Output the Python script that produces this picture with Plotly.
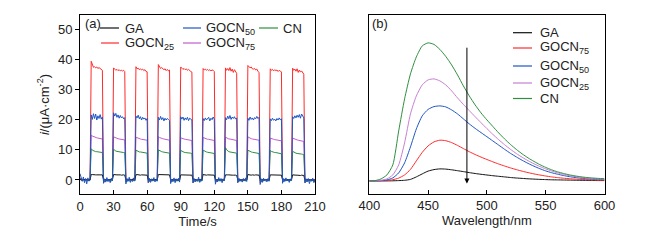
import plotly.graph_objects as go

W, H = 658, 241
FONT = "Arial, 'Liberation Sans', sans-serif"
TXT = "#222222"

# ---------------- (a) photocurrent data (1 s sampling) ----------------
time_s = list(range(0, 211))

ga = [0.3, 0.1, 0.0, 0.2, 0.1, 0.0, 0.1, 0.2, 0.0, 0.1,
      1.8, 1.8, 1.7, 1.8, 1.7, 1.7, 1.8, 1.7, 1.7, 1.6, 1.7, 0.2, 0.1, 0.1, 0.0, 0.1, 0.1, 0.0, 0.1, 0.1,
      1.8, 1.7, 1.8, 1.7, 1.7, 1.8, 1.7, 1.6, 1.7, 1.7, 1.6, 0.1, 0.1, 0.0, 0.1, 0.2, 0.1, 0.0, 0.1, 0.1,
      1.7, 1.8, 1.7, 1.7, 1.6, 1.7, 1.7, 1.6, 1.7, 1.6, 1.6, 0.1, 0.0, 0.1, 0.1, 0.0, 0.1, 0.2, 0.1, 0.0,
      1.8, 1.8, 1.7, 1.7, 1.8, 1.7, 1.6, 1.7, 1.7, 1.6, 1.7, 0.1, 0.1, 0.0, 0.1, 0.1, 0.0, 0.1, 0.1, 0.0,
      1.7, 1.7, 1.8, 1.7, 1.6, 1.7, 1.7, 1.6, 1.6, 1.7, 1.6, 0.2, 0.1, 0.0, 0.1, 0.0, 0.1, 0.1, 0.0, 0.1,
      1.8, 1.7, 1.7, 1.6, 1.7, 1.7, 1.6, 1.7, 1.6, 1.6, 1.6, 0.1, 0.0, 0.1, 0.1, 0.2, 0.1, 0.0, 0.1, 0.1,
      1.7, 1.8, 1.7, 1.7, 1.6, 1.7, 1.6, 1.6, 1.7, 1.6, 1.5, 0.1, 0.1, 0.0, 0.1, 0.0, 0.1, 0.1, 0.1, 0.0,
      1.8, 1.7, 1.7, 1.6, 1.7, 1.6, 1.6, 1.7, 1.6, 1.5, 1.6, 0.2, 0.1, 0.1, 0.0, 0.1, 0.0, 0.1, 0.1, 0.0,
      1.7, 1.7, 1.6, 1.7, 1.6, 1.6, 1.5, 1.6, 1.6, 1.5, 1.6, 0.1, 0.0, 0.1, 0.1, 0.0, 0.1, 0.1, 0.0, 0.1,
      1.7, 1.6, 1.7, 1.6, 1.6, 1.5, 1.6, 1.5, 1.6, 1.5, 1.5, 0.1, 0.1, 0.0, 0.1, 0.1, 0.0, 0.1, 0.0, 0.1, 0.0]

gocn25 = [0.8, 0.3, -0.2, 0.1, -0.3, 0.2, 0.0, -0.1, 0.2, 0.0,
          39.4, 37.9, 37.4, 37.6, 37.2, 37.5, 37.0, 37.3, 36.9, 36.7, 36.4, -0.9, -0.5, -0.2, 0.1, -0.1, 0.2, 0.0, 0.1, -0.1,
          37.2, 36.8, 36.4, 36.7, 36.3, 36.6, 36.2, 36.5, 36.1, 36.4, 36.0, -0.7, -0.4, 0.0, 0.2, -0.1, 0.1, 0.3, 0.0, 0.1,
          37.6, 36.9, 37.1, 36.6, 36.9, 36.5, 36.8, 36.3, 36.6, 36.0, 35.9, -0.8, -0.3, 0.1, -0.2, 0.2, 0.0, 0.1, -0.1, 0.0,
          38.3, 37.4, 37.0, 37.3, 36.8, 36.6, 36.9, 36.3, 36.7, 36.2, 36.5, -0.6, -0.2, 0.1, 0.0, 0.2, -0.1, 0.1, 0.2, 0.0,
          37.5, 37.1, 36.7, 37.0, 36.6, 36.9, 36.4, 36.7, 36.2, 36.0, 35.8, -0.9, -0.4, 0.0, 0.1, -0.2, 0.1, 0.0, 0.2, -0.1,
          37.0, 36.5, 36.8, 36.4, 36.7, 36.3, 36.6, 36.2, 36.5, 36.4, 36.0, -0.7, -0.3, 0.1, 0.2, 0.0, -0.1, 0.1, 0.0, 0.1,
          37.2, 36.4, 37.0, 36.3, 37.3, 36.1, 36.8, 35.7, 36.6, 36.0, 35.4, -0.8, -0.2, 0.0, 0.1, 0.2, -0.1, 0.0, 0.1, 0.0,
          38.0, 37.4, 37.2, 37.5, 36.9, 36.8, 37.0, 36.5, 36.8, 36.1, 35.6, -1.0, -0.5, -0.1, 0.1, 0.0, 0.2, -0.1, 0.1, 0.0,
          36.9, 36.4, 36.7, 36.2, 36.6, 36.3, 36.5, 36.0, 36.4, 36.1, 35.9, -0.7, -0.3, 0.0, 0.2, 0.1, -0.1, 0.0, 0.1, 0.0,
          37.1, 36.4, 36.8, 36.1, 36.9, 35.7, 36.5, 35.8, 36.2, 35.4, 35.1, -0.8, -0.4, -0.1, 0.1, 0.0, 0.1, -0.1, 0.0, 0.1, 0.0]

gocn50 = [2.1, 0.6, -0.4, 1.0, -0.9, 0.5, -1.3, 0.7, -0.4, 0.3,
          21.6, 20.1, 22.0, 20.4, 21.9, 19.9, 21.3, 20.4, 21.7, 20.2, 20.9, -1.1, 0.4, -0.7, 0.8, -0.5, 0.3, -0.9, 0.6, -0.2,
          22.3, 21.2, 22.1, 20.8, 21.6, 20.5, 21.4, 20.6, 21.0, 20.3, 20.7, -1.3, 0.5, -0.4, 0.9, -0.8, 0.2, -0.5, 0.7, -0.3,
          21.2, 20.6, 21.5, 20.3, 21.0, 19.9, 20.8, 20.2, 20.6, 19.8, 20.4, -0.9, 0.6, -0.8, 0.4, -0.3, 0.8, -0.6, 0.2, -0.4,
          20.8, 19.9, 21.1, 20.0, 20.7, 19.6, 20.5, 19.9, 20.4, 20.1, 19.7, -1.2, 0.3, -0.5, 0.7, -0.9, 0.4, -0.2, 0.6, -0.7,
          21.0, 20.2, 20.9, 19.8, 20.6, 20.0, 20.8, 19.7, 20.5, 20.2, 19.9, -1.0, 0.5, -0.6, 0.3, -0.4, 0.9, -0.8, 0.2, -0.3,
          20.4, 19.7, 20.6, 19.9, 20.3, 20.8, 19.6, 20.5, 20.0, 20.9, 20.2, -1.4, 0.2, -0.6, 0.8, -0.3, 0.5, -0.9, 0.4, -0.2,
          20.7, 20.0, 21.2, 20.3, 21.4, 20.1, 20.9, 20.4, 21.0, 20.2, 20.6, -0.9, 0.6, -0.4, 0.3, -0.7, 0.5, -0.3, 0.7, -0.5,
          20.5, 19.8, 20.9, 20.1, 20.6, 19.9, 20.7, 20.3, 21.1, 20.4, 20.8, -1.5, 0.4, -0.8, 0.6, -0.2, 0.3, -0.6, 0.5, -0.4,
          20.3, 19.7, 20.5, 19.8, 20.2, 19.6, 20.4, 19.9, 20.6, 20.0, 20.3, -1.1, 0.5, -0.5, 0.7, -0.3, 0.2, -0.8, 0.4, -0.1,
          21.0, 20.4, 21.3, 20.6, 21.5, 20.8, 21.7, 20.5, 21.9, 21.2, 20.6, -1.0, 0.4, -0.6, 0.5, -1.2, 0.3, -0.4, 0.6, -0.9, -0.2]

gocn75 = [0.4, 0.1, 0.0, 0.2, -0.1, 0.1, 0.0, 0.1, -0.1, 0.0,
          14.9, 14.6, 14.4, 14.2, 14.1, 14.0, 13.9, 13.8, 13.8, 13.7, 13.6, -0.3, 0.0, 0.1, 0.0, -0.1, 0.1, 0.0, 0.1, 0.0,
          14.3, 14.1, 13.9, 13.8, 13.7, 13.6, 13.5, 13.5, 13.4, 13.3, 13.3, -0.3, 0.0, 0.1, 0.0, 0.1, -0.1, 0.0, 0.1, 0.0,
          14.2, 14.0, 13.8, 13.7, 13.6, 13.5, 13.4, 13.4, 13.3, 13.2, 13.2, -0.2, 0.1, 0.0, -0.1, 0.1, 0.0, 0.1, 0.0, 0.0,
          14.4, 14.1, 13.9, 13.8, 13.7, 13.6, 13.5, 13.4, 13.4, 13.3, 13.2, -0.3, 0.0, 0.1, 0.1, 0.0, -0.1, 0.0, 0.1, 0.0,
          14.0, 13.8, 13.7, 13.6, 13.5, 13.4, 13.4, 13.3, 13.2, 13.2, 13.1, -0.2, 0.0, 0.1, 0.0, 0.1, 0.0, -0.1, 0.0, 0.1,
          14.1, 13.9, 13.7, 13.6, 13.5, 13.5, 13.4, 13.3, 13.3, 13.2, 13.1, -0.3, 0.1, 0.0, 0.1, 0.0, 0.1, 0.0, -0.1, 0.0,
          14.2, 13.9, 13.8, 13.6, 13.6, 13.5, 13.4, 13.3, 13.3, 13.2, 13.1, -0.2, 0.0, 0.1, 0.0, 0.1, 0.0, 0.0, 0.1, 0.0,
          14.3, 14.0, 13.8, 13.7, 13.6, 13.5, 13.4, 13.4, 13.3, 13.2, 13.2, -0.3, 0.0, 0.0, 0.1, 0.0, 0.1, -0.1, 0.0, 0.1,
          13.9, 13.7, 13.6, 13.5, 13.4, 13.3, 13.3, 13.2, 13.2, 13.1, 13.0, -0.2, 0.1, 0.0, 0.0, 0.1, 0.0, 0.1, 0.0, 0.0,
          13.9, 13.7, 13.5, 13.4, 13.3, 13.2, 13.1, 13.0, 13.0, 12.9, 12.8, -0.3, 0.0, 0.1, 0.0, -0.1, 0.1, 0.0, 0.0, 0.1, 0.0]

cn = [0.2, -0.1, -0.3, 0.0, -0.2, -0.1, -0.3, 0.0, -0.2, -0.1,
      10.4, 9.9, 9.7, 9.5, 9.4, 9.4, 9.3, 9.3, 9.2, 9.2, 9.1, -0.6, -0.4, -0.3, -0.2, -0.3, -0.2, -0.2, -0.3, -0.2,
      10.2, 9.8, 9.6, 9.5, 9.4, 9.3, 9.3, 9.2, 9.2, 9.1, 9.1, -0.5, -0.4, -0.2, -0.3, -0.2, -0.3, -0.2, -0.2, -0.3,
      9.9, 9.6, 9.4, 9.3, 9.3, 9.2, 9.1, 9.1, 9.0, 9.0, 8.9, -0.6, -0.3, -0.2, -0.3, -0.2, -0.2, -0.3, -0.2, -0.2,
      10.0, 9.7, 9.5, 9.4, 9.3, 9.2, 9.2, 9.1, 9.1, 9.0, 8.9, -0.5, -0.4, -0.3, -0.2, -0.2, -0.3, -0.2, -0.3, -0.2,
      9.8, 9.5, 9.3, 9.2, 9.1, 9.1, 9.0, 9.0, 8.9, 8.9, 8.8, -0.6, -0.3, -0.3, -0.2, -0.3, -0.2, -0.2, -0.2, -0.3,
      9.9, 9.6, 9.4, 9.3, 9.2, 9.1, 9.1, 9.0, 9.0, 8.9, 8.8, -0.5, -0.4, -0.2, -0.2, -0.3, -0.2, -0.3, -0.2, -0.2,
      10.8, 10.0, 9.6, 9.4, 9.3, 9.2, 9.1, 9.1, 9.0, 9.0, 8.9, -0.6, -0.3, -0.2, -0.3, -0.2, -0.2, -0.2, -0.3, -0.2,
      9.9, 9.6, 9.4, 9.3, 9.2, 9.1, 9.1, 9.0, 8.9, 8.9, 8.8, -0.5, -0.4, -0.3, -0.2, -0.2, -0.3, -0.2, -0.2, -0.3,
      9.8, 9.5, 9.3, 9.2, 9.1, 9.1, 9.0, 8.9, 8.9, 8.8, 8.7, -0.6, -0.3, -0.2, -0.2, -0.3, -0.2, -0.2, -0.3, -0.2,
      9.5, 9.2, 9.0, 8.9, 8.8, 8.8, 8.7, 8.6, 8.6, 8.5, 8.4, -0.5, -0.4, -0.3, -0.2, -0.2, -0.3, -0.2, -0.2, -0.3, -0.2]

# ---------------- (b) PL spectra data (5 nm grid) ----------------
wavelength_nm = [400, 405, 410, 415, 420, 425, 430, 435, 440, 445, 450, 455, 460, 465, 470, 475, 480,
                 485, 490, 495, 500, 505, 510, 515, 520, 525, 530, 535, 540, 545, 550, 555, 560,
                 565, 570, 575, 580, 585, 590, 595, 600]
pl_ga = [0, 0, 0, 0, 0.1, 0.3, 0.6, 1.5, 4, 7, 9.8, 11.3, 12, 11.8, 11.1, 10.2, 9.3,
         8.3, 7.4, 6.6, 5.9, 5.2, 4.6, 4.0, 3.4, 2.9, 2.5, 2.1, 1.8, 1.5, 1.3, 1.1, 1.0,
         0.9, 0.8, 0.7, 0.6, 0.5, 0.4, 0.35, 0.3]
pl_gocn75 = [0, 0, 0.1, 0.4, 1.2, 2.8, 6, 11.5, 20, 28.5, 35, 39, 40.7, 40.2, 38.3, 35.5, 32.3,
             29.2, 26.4, 23.8, 21.4, 19.1, 16.9, 14.9, 13, 11.3, 9.7, 8.3, 7, 5.9, 4.9, 4.0, 3.3,
             2.7, 2.2, 1.8, 1.5, 1.2, 1.0, 0.8, 0.7]
pl_gocn50 = [0, 0, 0.3, 1, 3, 8, 18, 34, 52, 65, 71.5, 74.3, 75, 74, 71, 67, 62,
             57, 52.5, 48.3, 44.2, 40, 35.8, 31.6, 27.6, 24, 20.6, 17.5, 14.7, 12.2, 10, 8.2, 6.7,
             5.4, 4.3, 3.4, 2.7, 2.2, 1.8, 1.5, 1.3]
pl_gocn25 = [0, 0.1, 0.6, 2, 6, 16, 38, 67, 85, 96, 101, 102, 100, 96, 90, 83, 76.5,
             70.3, 64.2, 58.2, 52.3, 46.6, 41.2, 36.2, 31.6, 27.4, 23.6, 20.2, 17.1, 14.4, 12, 9.9, 8.1,
             6.6, 5.3, 4.3, 3.5, 2.8, 2.3, 1.9, 1.6]
pl_cn = [0, 0.3, 2, 6, 16, 50, 82, 107, 124, 135, 138, 136.5, 131.5, 124.5, 116, 106, 95,
         85, 76, 68, 61, 54.5, 48, 42, 36.5, 31.5, 27, 23, 19.5, 16.3, 13.5, 11.1, 9.1,
         7.5, 6.1, 5.0, 4.1, 3.4, 2.9, 2.5, 2.2]
arrow_wavelength = 483
arrow_top, arrow_bottom = 134.7, -2.6

C_BLACK, C_RED, C_BLUE, C_PURPLE, C_GREEN = "#111111", "#ff2a2a", "#1f55c4", "#c45ccc", "#2f8f3f"
C_PURPLE_B = "#c77fd2"

fig = go.Figure()

# (a) traces
a_series = [("GOCN<sub>25</sub>", gocn25, C_RED), ("GOCN<sub>75</sub>", gocn75, C_PURPLE),
            ("CN", cn, C_GREEN), ("GA", ga, C_BLACK), ("GOCN<sub>50</sub>", gocn50, C_BLUE)]
for name, vals, col in a_series:
    fig.add_trace(go.Scatter(x=time_s, y=vals, mode="lines", name=name, showlegend=False,
                             line=dict(color=col, width=1), xaxis="x", yaxis="y"))

# (b) traces
b_series = [("GA", pl_ga, C_BLACK), ("GOCN<sub>75</sub>", pl_gocn75, C_RED),
            ("GOCN<sub>50</sub>", pl_gocn50, C_BLUE), ("GOCN<sub>25</sub>", pl_gocn25, C_PURPLE_B),
            ("CN", pl_cn, C_GREEN)]
for name, vals, col in b_series:
    fig.add_trace(go.Scatter(x=wavelength_nm, y=vals, mode="lines", name=name, showlegend=False,
                             line=dict(color=col, width=1, shape="spline", smoothing=0.6),
                             xaxis="x2", yaxis="y2"))

def px_x(p):
    return p / W

def px_y(p):
    return 1 - p / H

ax_common = dict(showline=True, linecolor="black", linewidth=1, mirror=True, showgrid=False,
                 zeroline=False, automargin=False, tickfont=dict(family=FONT, size=13, color=TXT),
                 tickcolor="black", ticklen=4, tickwidth=1)

fig.update_layout(
    width=W, height=H, margin=dict(l=0, r=0, t=0, b=0, autoexpand=False),
    paper_bgcolor="white", plot_bgcolor="white", showlegend=False,
    font=dict(family=FONT, size=13, color=TXT),
    xaxis=dict(domain=[px_x(80), px_x(315)], range=[0, 210], tickvals=[0, 30, 60, 90, 120, 150, 180, 210],
               ticks="inside", anchor="y",
               title=dict(text="Time/s", font=dict(family=FONT, size=13, color=TXT), standoff=3), **ax_common),
    yaxis=dict(domain=[px_y(194), px_y(15)], range=[-4.65, 54.75], tickvals=[0, 10, 20, 30, 40, 50],
               ticks="outside", anchor="x",
               title=dict(text="<i>i</i>/(μA·cm<sup>-2</sup>)", font=dict(family=FONT, size=13, color=TXT), standoff=5),
               **ax_common),
    xaxis2=dict(domain=[px_x(369.3), px_x(604.5)], range=[400, 600], tickvals=[400, 450, 500, 550, 600],
                ticks="inside", anchor="y2",
                title=dict(text="Wavelength/nm", font=dict(family=FONT, size=13, color=TXT), standoff=3), **ax_common),
    yaxis2=dict(domain=[px_y(193.5), px_y(14.5)], range=[-12.6, 166.4], showticklabels=False, ticks="",
                anchor="x2", **ax_common),
)

shapes = []
annots = []

def legend_item(x0, x1, y, color, text, tx):
    shapes.append(dict(type="line", xref="paper", yref="paper", x0=px_x(x0), x1=px_x(x1),
                       y0=px_y(y), y1=px_y(y), line=dict(color=color, width=1.2)))
    annots.append(dict(xref="paper", yref="paper", x=px_x(tx), y=px_y(y), text=text, showarrow=False,
                       xanchor="left", yanchor="middle", font=dict(family=FONT, size=13, color=TXT)))

# (a) legend
legend_item(100, 119, 28, C_BLACK, "GA", 123)
legend_item(183, 201, 28, C_BLUE, "GOCN<sub>50</sub>", 204)
legend_item(259, 278, 28, C_GREEN, "CN", 281)
legend_item(101, 119, 43, C_RED, "GOCN<sub>25</sub>", 123)
legend_item(183, 201, 43, C_PURPLE, "GOCN<sub>75</sub>", 204)
# (b) legend
legend_item(513, 532, 32.7, C_BLACK, "GA", 538)
legend_item(513, 532, 48, C_RED, "GOCN<sub>75</sub>", 538)
legend_item(513, 532, 66, C_BLUE, "GOCN<sub>50</sub>", 538)
legend_item(513, 532, 83, C_PURPLE_B, "GOCN<sub>25</sub>", 538)
legend_item(513, 532, 98.5, C_GREEN, "CN", 538)

# panel labels
annots.append(dict(xref="paper", yref="paper", x=px_x(83), y=px_y(23), text="(a)", showarrow=False,
                   xanchor="left", yanchor="middle", font=dict(family=FONT, size=13, color=TXT)))
annots.append(dict(xref="paper", yref="paper", x=px_x(370), y=px_y(23), text="(b)", showarrow=False,
                   xanchor="left", yanchor="middle", font=dict(family=FONT, size=13, color=TXT)))

# arrow in (b)
annots.append(dict(xref="x2", yref="y2", x=arrow_wavelength, y=arrow_bottom, axref="x2", ayref="y2",
                   ax=arrow_wavelength, ay=arrow_top, showarrow=True, arrowhead=2, arrowsize=1,
                   arrowwidth=1, arrowcolor="black", text=""))

fig.update_layout(shapes=shapes, annotations=annots)
fig.write_html("out.html", config={"displayModeBar": False},
               post_script="document.body.style.margin='0px';document.body.style.overflow='hidden';")
